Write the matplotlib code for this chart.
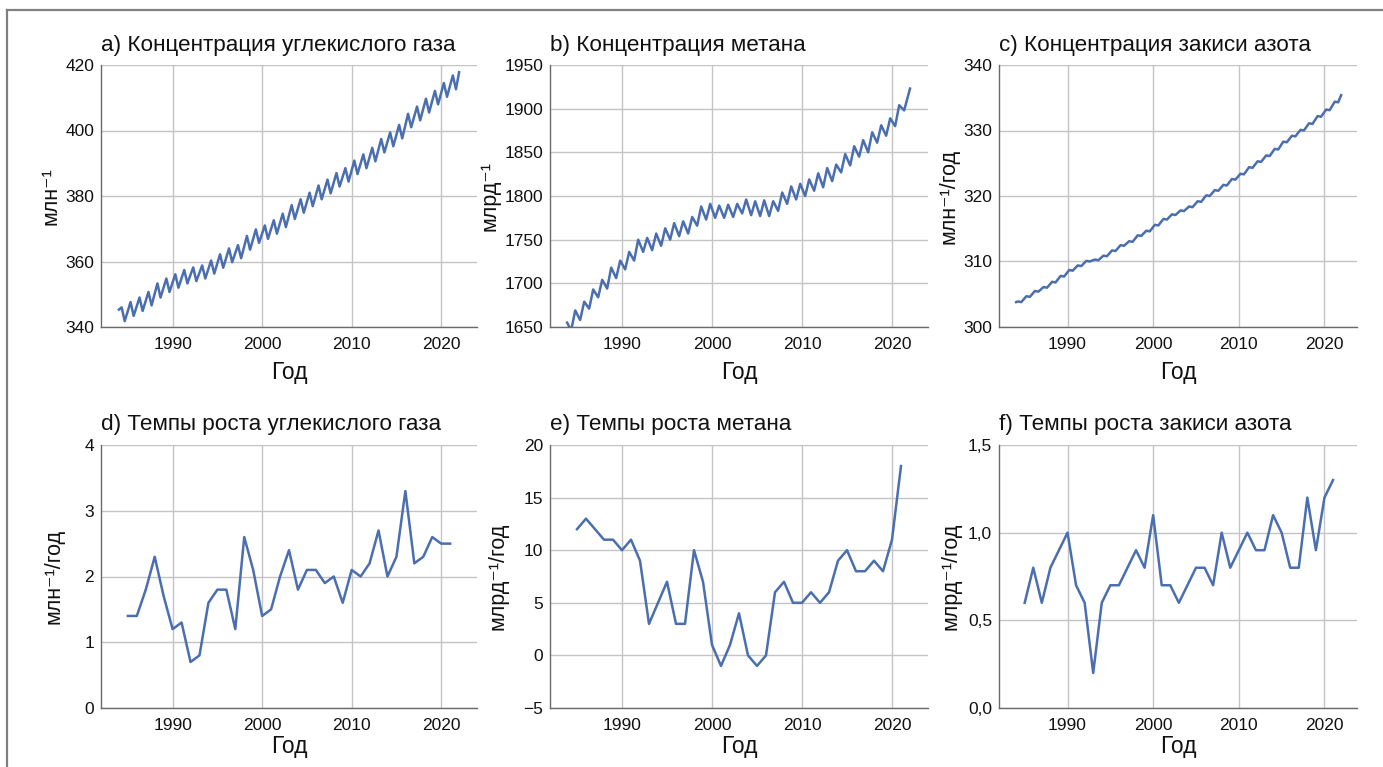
import numpy as np
import matplotlib.pyplot as plt
from matplotlib.lines import Line2D

# --- данные ---
years = list(range(1984, 2022))

# CO2, млн^-1: максимум (весна) и минимум (конец лета) каждого года
co2_peak = [346.0, 347.6, 349.0, 350.7, 353.3, 354.8, 356.1, 357.4, 358.2, 358.8,
            360.3, 362.2, 364.0, 365.0, 367.8, 369.8, 371.0, 372.6, 374.6, 377.2,
            379.0, 381.0, 383.2, 385.0, 387.0, 388.5, 390.8, 392.7, 394.7, 397.4,
            399.4, 401.7, 405.1, 407.3, 409.7, 412.1, 414.5, 416.8]
co2_trough = [341.8, 343.4, 344.9, 346.6, 349.0, 350.7, 352.0, 353.3, 354.0, 354.8,
              356.3, 358.1, 359.8, 361.0, 363.6, 365.7, 366.9, 368.5, 370.5, 373.0,
              374.9, 376.9, 379.0, 380.8, 382.9, 384.4, 386.7, 388.5, 390.6, 393.3,
              395.2, 397.6, 401.0, 403.1, 405.5, 408.0, 410.3, 412.6]
co2_start, co2_end = 345.3, 417.8

# CH4, млрд^-1: минимум (лето) и максимум (зима)
ch4_trough = [1646, 1658, 1671, 1684, 1694, 1706, 1716, 1726, 1736, 1738,
              1743, 1750, 1754, 1757, 1766, 1773, 1775, 1775, 1776, 1780,
              1778, 1777, 1777, 1783, 1791, 1796, 1800, 1806, 1810, 1817,
              1827, 1835, 1845, 1850, 1861, 1869, 1880, 1898]
ch4_peak = [1669, 1679, 1693, 1704, 1718, 1726, 1736, 1750, 1752, 1757,
            1763, 1769, 1771, 1776, 1788, 1791, 1789, 1790, 1791, 1796,
            1794, 1795, 1794, 1804, 1811, 1814, 1819, 1826, 1832, 1836,
            1848, 1857, 1864, 1873, 1881, 1889, 1904]
ch4_start, ch4_end = 1655, 1923

# N2O: небольшие сезонные колебания
n2o_hi = [303.9, 304.7, 305.5, 306.1, 306.9, 307.8, 308.7, 309.4, 310.1, 310.3,
          310.9, 311.7, 312.5, 313.1, 314.0, 314.7, 315.6, 316.5, 317.2, 317.8,
          318.4, 319.2, 320.1, 320.9, 321.7, 322.6, 323.4, 324.4, 325.3, 326.2,
          327.2, 328.3, 329.2, 330.1, 331.1, 332.2, 333.2, 334.4]
n2o_lo = [303.8, 304.6, 305.4, 306.0, 306.8, 307.7, 308.6, 309.3, 310.0, 310.2,
          310.8, 311.6, 312.4, 313.0, 313.9, 314.6, 315.5, 316.4, 317.1, 317.7,
          318.3, 319.1, 320.0, 320.8, 321.6, 322.5, 323.3, 324.3, 325.2, 326.1,
          327.1, 328.2, 329.1, 330.0, 331.0, 332.1, 333.1, 334.3]
n2o_start, n2o_end = 303.8, 335.4

# темпы роста
rate_years = list(range(1985, 2022))
co2_rate = [1.4, 1.4, 1.8, 2.3, 1.7, 1.2, 1.3, 0.7, 0.8, 1.6, 1.8, 1.8, 1.2, 2.6, 2.1,
            1.4, 1.5, 2.0, 2.4, 1.8, 2.1, 2.1, 1.9, 2.0, 1.6, 2.1, 2.0, 2.2, 2.7, 2.0,
            2.3, 3.3, 2.2, 2.3, 2.6, 2.5, 2.5]
ch4_rate = [12, 13, 12, 11, 11, 10, 11, 9, 3, 5, 7, 3, 3, 10, 7,
            1, -1, 1, 4, 0, -1, 0, 6, 7, 5, 5, 6, 5, 6, 9,
            10, 8, 8, 9, 8, 11, 18]
n2o_rate = [0.6, 0.8, 0.6, 0.8, 0.9, 1.0, 0.7, 0.6, 0.2, 0.6, 0.7, 0.7, 0.8, 0.9, 0.8,
            1.1, 0.7, 0.7, 0.6, 0.7, 0.8, 0.8, 0.7, 1.0, 0.8, 0.9, 1.0, 0.9, 0.9, 1.1,
            1.0, 0.8, 0.8, 1.2, 0.9, 1.2, 1.3]


def seasonal(start, first, second, end, t0, t1, tstart, tend):
    # собираем ряд: старт, (first, second) по годам, конец
    t, v = [tstart], [start]
    for i, y in enumerate(years):
        t.append(y + t0)
        v.append(first[i])
        if i < len(second):
            t.append(y + t1)
            v.append(second[i])
    t.append(tend)
    v.append(end)
    return t, v


co2_t, co2_v = seasonal(co2_start, co2_peak, co2_trough, co2_end, 0.3, 0.65, 1984.0, 2022.0)
ch4_t, ch4_v = seasonal(ch4_start, ch4_trough, ch4_peak, ch4_end, 0.35, 0.8, 1983.9, 2022.0)
n2o_t, n2o_v = seasonal(n2o_start, n2o_hi, n2o_lo, n2o_end, 0.2, 0.6, 1984.0, 2021.95)

LINE = "#4a6eb0"
GRID = "#c4c4c4"
SPINE = "#6a6a6a"

plt.rcParams["font.family"] = ["Liberation Sans", "DejaVu Sans"]
TICKFONT = ["Liberation Sans Narrow", "Liberation Sans", "DejaVu Sans"]

fig = plt.figure(figsize=(13.83, 7.67), dpi=100)

# рамка сверху и слева
fig.add_artist(Line2D([7 / 1383, 1], [1 - 10 / 767, 1 - 10 / 767], color="#808080", lw=1.6))
fig.add_artist(Line2D([7 / 1383, 7 / 1383], [0, 1 - 10 / 767], color="#808080", lw=1.6))

lefts = [101 / 1383, 550 / 1383, 999 / 1383]
widths = [376 / 1383, 378 / 1383, 358 / 1383]
bottoms = [1 - 327 / 767, 1 - 708 / 767]
heights = [262 / 767, 263 / 767]

panels = [
    (0, 0, co2_t, co2_v, "a) Концентрация углекислого газа", "млн⁻¹",
     (340, 420), [340, 360, 380, 400, 420], None, -0.104),
    (0, 1, ch4_t, ch4_v, "b) Концентрация метана", "млрд⁻¹",
     (1650, 1950), [1650, 1700, 1750, 1800, 1850, 1900, 1950], None, -0.13),
    (0, 2, n2o_t, n2o_v, "c) Концентрация закиси азота", "млн⁻¹/год",
     (300, 340), [300, 310, 320, 330, 340], None, -0.11),
    (1, 0, rate_years, co2_rate, "d) Темпы роста углекислого газа", "млн⁻¹/год",
     (0, 4), [0, 1, 2, 3, 4], None, -0.096),
    (1, 1, rate_years, ch4_rate, "e) Темпы роста метана", "млрд⁻¹/год",
     (-5, 20), [-5, 0, 5, 10, 15, 20], ["\u22125", "0", "5", "10", "15", "20"], -0.111),
    (1, 2, rate_years, n2o_rate, "f) Темпы роста закиси азота", "млрд⁻¹/год",
     (0, 1.5), [0, 0.5, 1.0, 1.5], ["0,0", "0,5", "1,0", "1,5"], -0.106),
]

for row, col, x, y, title, ylab, ylim, yticks, ylabels, ylab_x in panels:
    ax = fig.add_axes([lefts[col], bottoms[row], widths[col], heights[row]])
    ax.plot(x, y, color=LINE, lw=1.8)
    ax.set_xlim(1982, 2024 if col < 2 else 2023.8)
    ax.set_ylim(*ylim)
    ax.set_xticks([1990, 2000, 2010, 2020])
    ax.set_yticks(yticks)
    if ylabels:
        ax.set_yticklabels(ylabels)
    ax.grid(True, color=GRID, lw=1.0)
    ax.set_axisbelow(True)
    for s in ["top", "right"]:
        ax.spines[s].set_visible(False)
    for s in ["left", "bottom"]:
        ax.spines[s].set_color(SPINE)
        ax.spines[s].set_linewidth(1.0)
    ax.tick_params(length=0, labelsize=12.5, labelcolor="#111111")
    ax.tick_params(axis="y", pad=5)
    ax.tick_params(axis="x", pad=7)
    for lbl in ax.get_xticklabels() + ax.get_yticklabels():
        lbl.set_family(TICKFONT)
    ax.set_title(title, loc="left", fontsize=16.2, pad=10 if row == 0 else 11, color="#111111")
    ax.set_xlabel("Год", fontsize=16.5, labelpad=7 if row == 0 else 2, color="#111111")
    ax.set_ylabel(ylab, fontsize=15.5, color="#111111")
    ax.yaxis.set_label_coords(ylab_x, 0.5)

fig.savefig("out.png", dpi=100)
